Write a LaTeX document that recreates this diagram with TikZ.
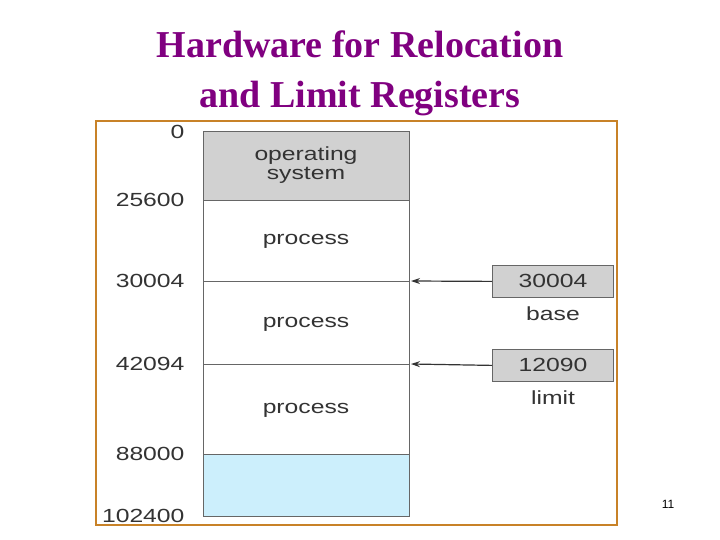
\documentclass[tikz,border=0pt]{standalone}
\usepackage{fontspec}
\usepackage{graphicx}
\usetikzlibrary{arrows.meta}
\setmainfont{Liberation Serif}
\setsansfont{Liberation Sans}
\newcommand{\wide}[1]{\scalebox{1.3}[1]{#1}}
\begin{document}
\begin{tikzpicture}[x=1pt,y=-1pt,
  lbl/.style={font=\sffamily\fontsize{19}{19}\selectfont, text=black!80},
  mem/.style={draw=black!60, line width=0.8pt},
  reg/.style={draw=black!60, fill=black!18, line width=0.8pt, minimum width=121pt, minimum height=32pt, anchor=north west, inner sep=0pt},
  ptr/.style={-{Stealth[length=9pt,width=6pt]}, black!80, line width=1.2pt}]
\useasboundingbox (0,0) rectangle (720,540);
\node[font=\bfseries\fontsize{38}{50}\selectfont, text={rgb,255:red,128;green,0;blue,128}, align=center] (title) at (360,73) {Hardware for Relocation\\and Limit Registers};
\draw[draw={rgb,255:red,200;green,130;blue,40}, line width=2pt] (96,121) rectangle (617,525);
\fill[black!18] (203,131) rectangle (409,200);
\fill[cyan!20] (203,454) rectangle (409,516);
\draw[mem] (203,131) rectangle (409,516);
\foreach \y in {200,281,364,454} \draw[mem] (203,\y) -- (409,\y);
\node[lbl,align=center] (os) at (306,165) {\wide{operating}\\[0pt]\wide{system}};
\node[lbl] (p1) at (306,241) {\wide{process}};
\node[lbl] (p2) at (306,324) {\wide{process}};
\node[lbl] (p3) at (306,410) {\wide{process}};
\foreach \v/\y in {0/132,25600/200,30004/281,42094/364,88000/454,102400/516}
  \node[lbl,anchor=east] at (188,\y) {\wide{\v}};
\node[reg] (base) at (492,265) {}; \node[lbl] at (553,281) {\wide{30004}};
\node[reg] (limit) at (492,349) {}; \node[lbl] at (553,365) {\wide{12090}};
\node[lbl] (bl) at (553,314) {\wide{base}};
\node[lbl] (ll) at (553,398) {\wide{limit}};
\coordinate (a1) at (411,281); \coordinate (a2) at (411,364);
\draw[ptr] (base.west) -- (a1);
\draw[ptr] (limit.west) -- (a2);
\node[font=\sffamily\fontsize{12}{12}\selectfont] (pg) at (668,504) {11};
\end{tikzpicture}
\end{document}
